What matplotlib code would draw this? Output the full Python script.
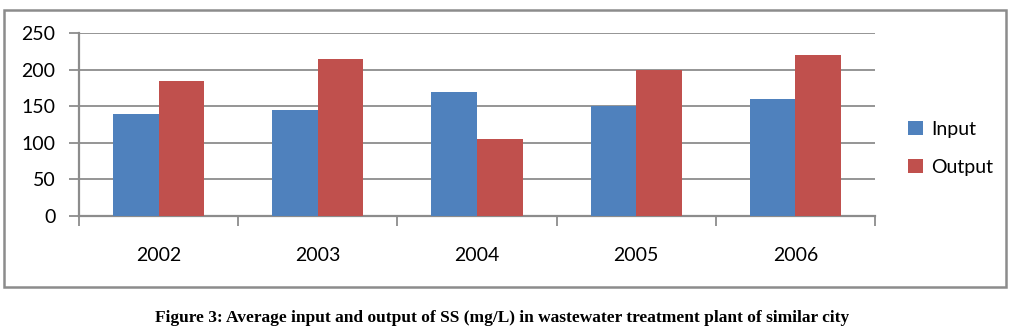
import matplotlib
matplotlib.use("Agg")
import matplotlib.pyplot as plt
from matplotlib.patches import Rectangle
import numpy as np

years = ["2002", "2003", "2004", "2005", "2006"]
input_vals = [140, 145, 170, 150, 160]
output_vals = [185, 215, 105, 200, 220]
yticks = [0, 50, 100, 150, 200, 250]

W, H = 1021, 335
fig = plt.figure(figsize=(W / 100, H / 100), dpi=100)
fig.patch.set_facecolor("white")
plt.rcParams["font.family"] = ["Lato", "DejaVu Sans"]

# outer frame
fig.add_artist(Rectangle((4 / W, 1 - 287 / H), (1006 - 4) / W, (287 - 10) / H,
                         transform=fig.transFigure, fill=False,
                         edgecolor="#8c8c8c", linewidth=1.8))

ax = fig.add_axes([79 / W, 1 - 216 / H, (875 - 79) / W, (216 - 33) / H])
x = np.arange(len(years))
bw = 0.286
ax.bar(x - bw / 2, input_vals, bw, color="#4f81bd", label="Input", zorder=3)
ax.bar(x + bw / 2, output_vals, bw, color="#c0504d", label="Output", zorder=3)

ax.set_xlim(-0.5, len(years) - 0.5)
ax.set_ylim(0, 250)
ax.set_yticks(yticks)
ax.yaxis.grid(True, color="#8c8c8c", linewidth=1.3, zorder=0)
ax.set_xticks(x)
ax.set_xticklabels(years)
ax.set_xticks(np.arange(-0.5, len(years)), minor=True)
ax.tick_params(axis="x", which="major", length=0, pad=22, labelsize=14)
ax.tick_params(axis="x", which="minor", length=7, width=1.3, color="#8c8c8c")
ax.tick_params(axis="y", length=7, width=1.3, color="#8c8c8c", pad=10, labelsize=14)
for s in ["top", "right"]:
    ax.spines[s].set_visible(False)
for s in ["left", "bottom"]:
    ax.spines[s].set_color("#8c8c8c")
    ax.spines[s].set_linewidth(1.6)

leg = ax.legend(loc="center left", bbox_to_anchor=(1.02, 0.37), frameon=False,
                fontsize=14, handlelength=0.75, handleheight=0.75,
                handletextpad=0.4, labelspacing=1.1)

fig.text(502 / W, 1 - 318 / H,
         "Figure 3: Average input and output of SS (mg/L) in wastewater treatment plant of similar city",
         ha="center", va="center", fontsize=12.5, fontweight="bold",
         family="Liberation Serif")

fig.savefig("out.png", dpi=100)
